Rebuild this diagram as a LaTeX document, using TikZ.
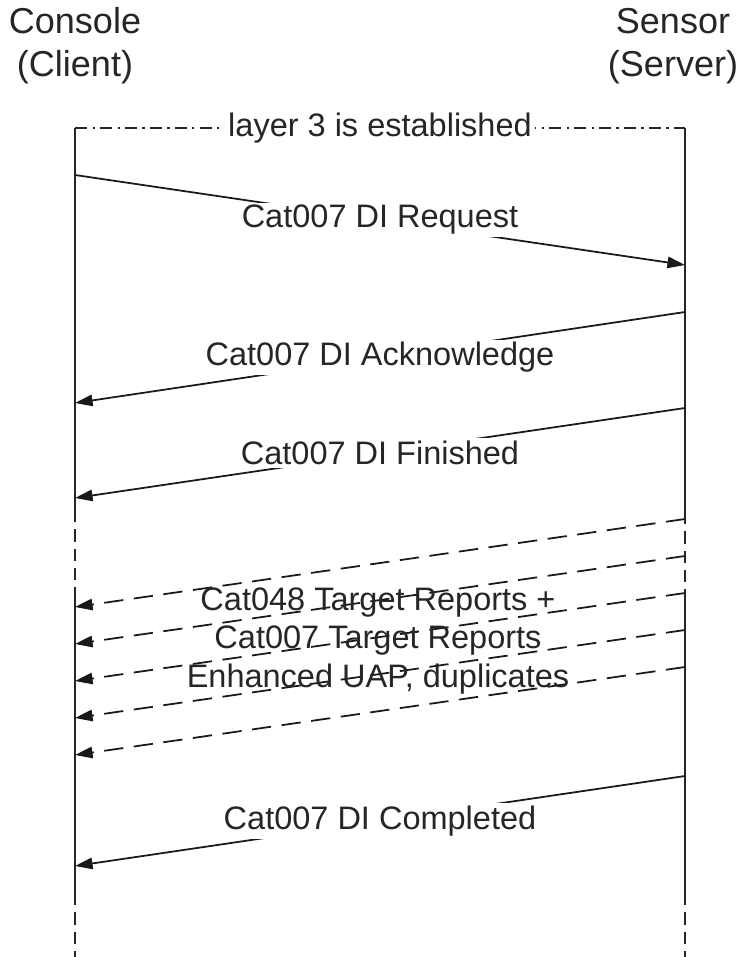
\documentclass[tikz,border=0pt]{standalone}
\usepackage{fontspec}
\setmainfont{Liberation Sans}
\usetikzlibrary{arrows.meta}

\begin{document}
\begin{tikzpicture}[x=0.02cm,y=-0.02cm,
  life/.style={line width=1pt,black!85},
  idle/.style={life,dash pattern=on 7pt off 4pt},
  frame/.style={line width=0.9pt,black!85,dash pattern=on 7pt off 3pt on 1.2pt off 3pt},
  msg/.style={line width=1pt,black!90,-{Triangle[length=10pt,width=6.5pt]}},
  rpt/.style={msg,dash pattern=on 11pt off 6pt},
  lbl/.style={fill=white,inner sep=1.5pt,text=black!85,font=\fontsize{18.5}{22}\selectfont},
  who/.style={align=center,text=black!85,font=\fontsize{20.5}{24.5}\selectfont}]
\useasboundingbox (0,0) rectangle (742,957);
\node[who] (client) at (75,46) {Console\\(Client)};
\node[who] (server) at (673,46) {Sensor\\(Server)};
\coordinate (cA) at (75,128);  \coordinate (sA) at (685,128);
\coordinate (cB) at (75,510);  \coordinate (sB) at (685,512);
\coordinate (cC) at (75,590);  \coordinate (sC) at (685,590);
\coordinate (cD) at (75,893);  \coordinate (sD) at (685,893);
\coordinate (cE) at (75,957);  \coordinate (sE) at (685,957);
% lifelines
\draw[life] (cA) -- (cB) (sA) -- (sB) (cC) -- (cD) (sC) -- (sD);
\draw[idle] (cB) -- (cC) (sB) -- (sC) (cD) -- (cE) (sD) -- (sE);
\draw[frame] (cA) -- node[lbl,inner sep=2pt] (layer) {layer 3 is established} (sA);
% messages
\coordinate (c1) at (75,175);  \coordinate (s1) at (685,265);
\coordinate (s2) at (685,312); \coordinate (c2) at (75,403);
\coordinate (s3) at (685,408); \coordinate (c3) at (75,498);
\coordinate (s4) at (685,776); \coordinate (c4) at (75,866);
\draw[msg] (c1) -- node[lbl] (req) {Cat007 DI Request} (s1);
\draw[msg] (s2) -- node[lbl] (ack) {Cat007 DI Acknowledge} (c2);
\draw[msg] (s3) -- node[lbl] (fin) {Cat007 DI Finished} (c3);
\foreach \i in {0,...,4}{
  \coordinate (rs\i) at (685,{519+37*\i});
  \coordinate (rc\i) at (75,{607+37*\i});
  \draw[rpt] (rs\i) -- (rc\i);
}
\node[align=center,text=black!85,font=\fontsize{18.5}{22}\selectfont] (rep) at (378,641)
  {Cat048 Target Reports +\\Cat007 Target Reports\\Enhanced UAP, duplicates};
\draw[msg] (s4) -- node[lbl] (done) {Cat007 DI Completed} (c4);
\end{tikzpicture}
\end{document}
